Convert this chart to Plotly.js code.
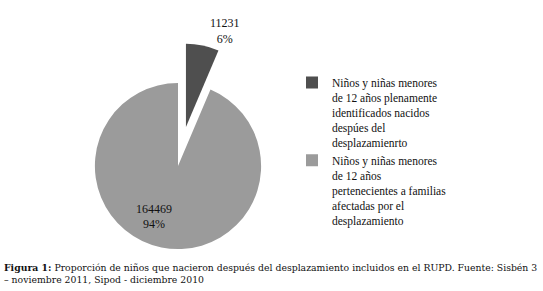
<!DOCTYPE html>
<html><head><meta charset="utf-8">
<script src="https://cdn.plot.ly/plotly-3.0.1.min.js"></script>
<style>html,body{margin:0;padding:0;background:#fff}</style>
</head><body><div id="chart" style="width:543px;height:291px"></div>
<script>
const labels = [
  "Niños y niñas menores<br>de 12 años plenamente<br>identificados nacidos<br>despúes del<br>desplazamienrto",
  "Niños y niñas menores<br>de 12 años<br>pertenecientes a familias<br>afectadas por el<br>desplazamiento"
];
const values = [11231, 164469];
const colors = ["#4f4f4f", "#9b9b9b"];
const pulls = [0.48, 0];
const caption = "<b>Figura 1:</b> Proporción de niños que nacieron después del desplazamiento incluidos en el RUPD. Fuente: Sisbén 3<br>– noviembre 2011, Sipod - diciembre 2010";

const pad = "\u00a0".repeat(16);
const trace = {
  type: "pie",
  labels: labels,
  values: values,
  sort: false,
  direction: "clockwise",
  rotation: 0,
  pull: pulls,
  marker: {colors: colors, line: {width: 0}},
  texttemplate: [
    "%{value:d}<br>%{percent:.0%}",
    "\u00a0<br>\u00a0<br>%{value:d}" + pad + "<br>%{percent:.0%}" + pad
  ],
  textposition: ["outside", "inside"],
  insidetextorientation: "horizontal",
  textfont: {family: "Liberation Serif", size: 12, color: "#111"},
  insidetextfont: {family: "Liberation Serif", size: 12, color: "#111"},
  outsidetextfont: {family: "Liberation Serif", size: 12, color: "#111"},
  hoverinfo: "none",
  domain: {x: [55/543, 301/543], y: [2/291, 248/291]}
};

const layout = {
  width: 543, height: 291,
  margin: {l: 0, r: 0, t: 0, b: 0},
  paper_bgcolor: "#fff",
  showlegend: true,
  legend: {
    x: 292/543, xanchor: "left", y: 1 - 68.5/291, yanchor: "top",
    valign: "top",
    font: {family: "Liberation Serif", size: 11.5, color: "#111"},
    tracegroupgap: 4, bgcolor: "rgba(0,0,0,0)"
  },
  annotations: [{
    xref: "paper", yref: "paper", x: 2/543, y: 4/291, xanchor: "left", yanchor: "bottom",
    align: "left", showarrow: false, text: caption,
    font: {family: "DejaVu Serif", size: 9.3, color: "#111"}
  }]
};
Plotly.newPlot("chart", [trace], layout, {displayModeBar: false, staticPlot: true});
</script></body></html>
